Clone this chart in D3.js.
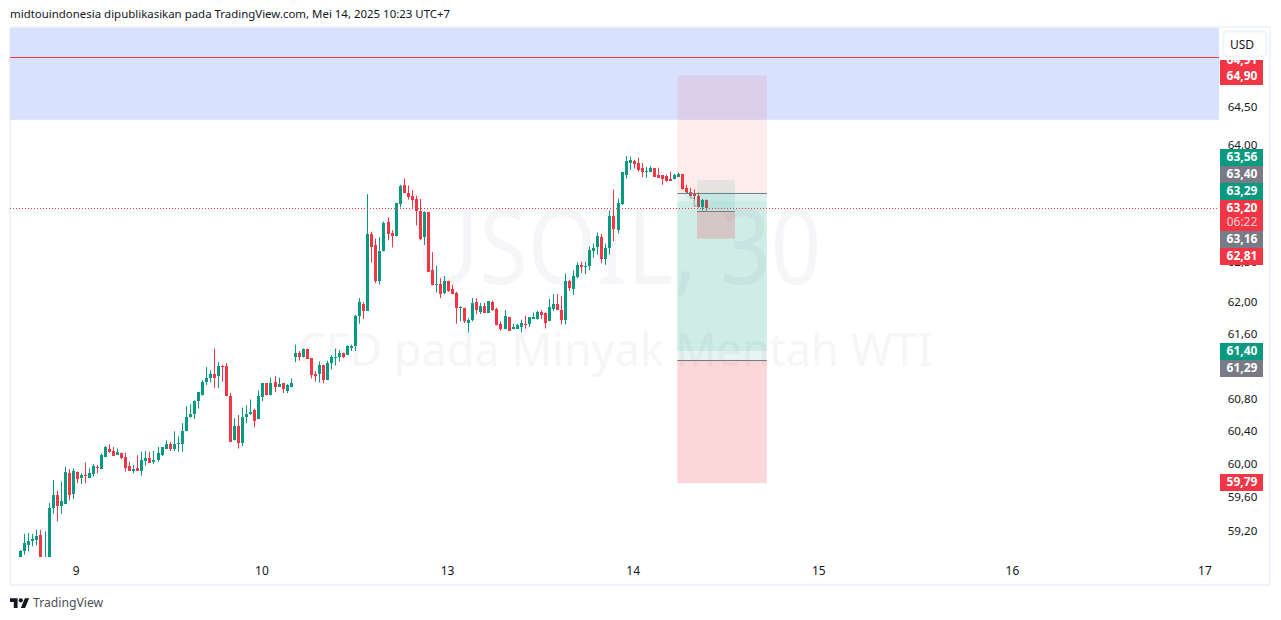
<!DOCTYPE html>
<html>
<head>
<meta charset="utf-8">
<style>
  html, body { margin: 0; padding: 0; background: #fff; }
  svg { display: block; }
  text { font-family: "Noto Sans", sans-serif; }
</style>
<script src="https://cdn.jsdelivr.net/npm/d3@7/dist/d3.min.js"></script>
</head>
<body>
<div id="svg-content"></div>
<script>
var opens = [
  58.85,58.96,59.04,59.08,59.10,59.16,58.82,58.85,59.48,59.64,
  59.51,59.53,59.90,59.65,59.92,59.84,59.88,59.84,59.89,59.98,
  59.95,60.10,60.19,60.17,60.12,60.15,60.10,59.99,59.93,59.96,
  59.93,60.05,60.09,60.04,60.06,60.12,60.20,60.25,60.19,60.26,
  60.25,60.41,60.58,60.62,60.78,60.86,61.01,61.06,61.11,61.09,
  61.22,61.21,60.84,60.30,60.48,60.27,60.58,60.62,60.67,60.56,
  60.83,61.00,60.85,61.01,60.96,61.00,60.91,60.95,61.32,61.38,
  61.32,61.43,61.31,61.12,61.11,61.23,61.04,61.25,61.32,61.32,
  61.37,61.35,61.44,61.46,61.83,61.99,61.90,62.87,62.73,62.28,
  62.65,63.02,62.88,62.85,63.25,63.50,63.40,63.35,63.32,63.16,
  62.83,63.15,62.42,62.23,62.24,62.13,62.28,62.18,62.13,61.94,
  61.94,61.75,61.78,62.01,61.89,61.96,61.88,62.01,61.93,61.73,
  61.68,61.82,61.67,61.68,61.70,61.74,61.73,61.80,61.80,61.89,
  61.87,61.77,61.93,61.99,61.91,61.78,62.28,62.18,62.33,62.48,
  62.45,62.46,62.66,62.70,62.83,62.55,62.69,63.10,62.92,63.25,
  63.63,63.78,63.81,63.78,63.71,63.67,63.66,63.71,63.62,63.62,
  63.61,63.57,63.57,63.60,63.64,63.46,63.41,63.39,63.36,63.21,63.30
];
var highs = [
  58.98,59.17,59.18,59.17,59.22,59.22,59.20,59.54,59.82,59.69,
  59.80,59.98,59.95,59.96,59.92,59.90,60.03,59.96,60.01,60.00,
  60.14,60.23,60.25,60.22,60.20,60.15,60.15,60.04,60.00,60.12,
  60.16,60.17,60.16,60.17,60.22,60.22,60.30,60.28,60.41,60.35,
  60.51,60.72,60.74,60.79,60.89,61.04,61.20,61.16,61.43,61.26,
  61.23,61.25,60.88,60.57,60.61,60.70,60.73,60.80,60.69,60.91,
  61.00,61.00,61.07,61.09,61.07,61.00,60.99,61.06,61.48,61.40,
  61.43,61.43,61.31,61.15,61.27,61.23,61.28,61.35,61.43,61.41,
  61.38,61.47,61.48,61.85,62.06,62.01,63.38,62.90,62.81,62.83,
  63.03,63.08,62.92,63.27,63.50,63.58,63.49,63.43,63.36,63.32,
  63.16,63.15,62.64,62.47,62.31,62.34,62.28,62.23,62.14,61.96,
  61.94,61.81,62.06,62.06,62.00,62.00,62.02,62.03,61.94,61.77,
  61.91,61.82,61.74,61.74,61.79,61.84,61.82,61.88,61.90,61.91,
  61.88,62.05,62.11,62.11,62.09,62.37,62.29,62.41,62.51,62.52,
  62.52,62.71,62.75,62.89,62.87,62.75,63.17,63.44,63.32,63.66,
  63.87,63.86,63.82,63.85,63.78,63.73,63.74,63.71,63.72,63.62,
  63.63,63.67,63.64,63.66,63.64,63.50,63.46,63.44,63.40,63.32,63.31
];
var lows = [
  58.82,58.92,58.96,59.02,59.03,58.85,58.80,58.82,59.41,59.32,
  59.41,59.53,59.57,59.59,59.78,59.77,59.78,59.84,59.86,59.90,
  59.95,60.10,60.15,60.11,60.12,60.07,59.92,59.93,59.90,59.93,
  59.87,59.99,60.03,60.01,60.04,60.11,60.20,60.17,60.17,60.16,
  60.16,60.41,60.58,60.56,60.69,60.85,60.98,61.01,60.94,60.94,
  61.02,60.84,60.28,60.30,60.20,60.23,60.51,60.61,60.46,60.56,
  60.78,60.85,60.85,60.89,60.96,60.88,60.88,60.95,61.26,61.28,
  61.32,61.30,61.06,61.02,61.01,61.00,61.04,61.17,61.22,61.27,
  61.31,61.35,61.40,61.40,61.74,61.80,61.90,62.51,62.25,62.23,
  62.65,62.79,62.70,62.84,63.21,63.39,63.31,63.21,62.98,62.79,
  62.73,62.39,62.22,62.13,62.06,62.11,62.14,62.11,61.74,61.77,
  61.75,61.63,61.77,61.86,61.86,61.88,61.88,61.90,61.72,61.65,
  61.67,61.65,61.67,61.68,61.63,61.68,61.70,61.80,61.79,61.80,
  61.68,61.77,61.90,61.91,61.73,61.73,62.15,62.10,62.31,62.38,
  62.36,62.41,62.57,62.61,62.50,62.48,62.61,62.78,62.88,63.24,
  63.58,63.69,63.71,63.67,63.60,63.59,63.66,63.60,63.59,63.50,
  63.54,63.55,63.57,63.60,63.44,63.38,63.35,63.31,63.21,63.17,63.17
];
var closes = [
  58.97,59.06,59.09,59.11,59.15,58.85,58.84,59.48,59.64,59.50,
  59.56,59.92,59.64,59.93,59.83,59.88,59.87,59.90,59.99,59.96,
  60.12,60.22,60.16,60.11,60.16,60.09,59.96,59.93,59.95,59.93,
  60.06,60.09,60.03,60.06,60.15,60.22,60.26,60.19,60.26,60.27,
  60.42,60.59,60.62,60.78,60.89,61.01,61.06,61.12,61.07,61.21,
  61.20,60.84,60.28,60.47,60.27,60.59,60.62,60.65,60.54,60.84,
  61.00,60.85,61.00,60.96,60.99,60.93,60.98,61.00,61.38,61.32,
  61.43,61.30,61.10,61.09,61.23,61.04,61.25,61.32,61.33,61.37,
  61.33,61.46,61.46,61.84,62.01,61.90,62.87,62.70,62.28,62.66,
  63.01,62.87,62.85,63.26,63.49,63.39,63.34,63.31,63.16,62.81,
  63.15,62.39,62.22,62.24,62.11,62.28,62.15,62.11,61.94,61.95,
  61.77,61.79,62.00,61.91,61.96,61.88,62.02,61.91,61.72,61.67,
  61.83,61.65,61.70,61.72,61.75,61.73,61.82,61.82,61.89,61.85,
  61.75,61.95,61.99,61.91,61.78,62.27,62.19,62.34,62.48,62.45,
  62.46,62.67,62.69,62.84,62.55,62.69,63.10,62.93,63.26,63.66,
  63.80,63.82,63.77,63.69,63.66,63.68,63.72,63.60,63.59,63.58,
  63.55,63.55,63.62,63.64,63.44,63.41,63.36,63.35,63.21,63.31,63.20
];

var priceTicks = [59.2, 59.6, 60, 60.4, 60.8, 61.6, 62, 62.5, 64, 64.5];
var dayBars = [14, 60, 106, 152, 198, 246, 293.7];
var dayLabels = ['9', '10', '13', '14', '15', '16', '17'];

var lastPrice = 63.20;
var zonePrices = [65.55, 64.34];
var zoneLinePrice = 65.165;
var pathBars = [165, 166, 166, 167, 167, 168];
var pathPrices = [63.40, 63.40, 63.33, 63.33, 63.23, 63.23];

var labelTexts = ['64,90', '63,56', '63,40', '63,29', '63,20', '63,16', '62,81', '61,40', '61,29', '59,79'];
var labelKinds = ['r', 'g', 'k', 'g', 'r', 'k', 'r', 'g', 'k', 'r'];
var labelTops = [68, 149, 166, 183, 200, 231, 248, 343, 360, 474];

var green = '#089981', red = '#f23645', grey = '#787b86', ink = '#131722';
var kindColor = { r: red, g: green, k: grey };

var plotLeft = 10, plotRight = 1219, plotTop = 28, plotBottom = 557;

var svg = d3.select('#svg-content').append('svg').attr('width', 1281).attr('height', 620);

var x = d3.scaleLinear().domain([0, 170]).range([20.3, 706.3]);
var y = d3.scaleLog().domain([60, 64]).range([465, 146]);

svg.append('text').attr('x', 10).attr('y', 18)
  .attr('font-size', 11.45).attr('fill', ink)
  .text('midtouindonesia dipublikasikan pada TradingView.com, Mei 14, 2025 10:23 UTC+7');

svg.append('rect').attr('x', 10).attr('y', 27).attr('width', 1260).attr('height', 558)
  .attr('fill', 'none').attr('stroke', '#f0f3fa').attr('stroke-width', 2).attr('rx', 2);

svg.append('defs').append('clipPath').attr('id', 'plot-clip').append('rect')
  .attr('x', plotLeft).attr('y', plotTop)
  .attr('width', plotRight - plotLeft).attr('height', plotBottom - plotTop);

var plot = svg.append('g').attr('clip-path', 'url(#plot-clip)');

// watermark sits under everything
plot.append('text').attr('x', 618).attr('y', 284).attr('text-anchor', 'middle')
  .attr('font-size', 104).attr('textLength', 407).attr('lengthAdjust', 'spacingAndGlyphs')
  .attr('fill', '#f6f6f8').text('USOIL, 30');
plot.append('text').attr('x', 615).attr('y', 366).attr('text-anchor', 'middle')
  .attr('font-size', 45).attr('fill', '#f6f6f8').text('CFD pada Minyak Mentah WTI');

plot.append('rect').attr('x', plotLeft).attr('width', plotRight - plotLeft)
  .attr('y', y(zonePrices[0])).attr('height', y(zonePrices[1]) - y(zonePrices[0]))
  .attr('fill', '#d8e1fd');
plot.append('line').attr('x1', plotLeft).attr('x2', plotRight)
  .attr('y1', Math.round(y(zoneLinePrice)) + 0.5).attr('y2', Math.round(y(zoneLinePrice)) + 0.5)
  .attr('stroke', red).attr('stroke-width', 1);

var bars = d3.range(opens.length);

plot.append('g').selectAll('rect').data(bars).enter().append('rect')
  .attr('x', function (d) { return Math.round(x(d)); })
  .attr('width', 1)
  .attr('y', function (d) { return y(highs[d]); })
  .attr('height', function (d) { return y(lows[d]) - y(highs[d]); })
  .attr('fill', function (d) { return closes[d] >= opens[d] ? green : red; });

plot.append('g').selectAll('rect').data(bars).enter().append('rect')
  .attr('x', function (d) { return Math.round(x(d)) - 1; })
  .attr('width', 3)
  .attr('y', function (d) { return Math.round(y(Math.max(opens[d], closes[d]))); })
  .attr('height', function (d) {
    return Math.max(1, Math.round(y(Math.min(opens[d], closes[d]))) - Math.round(y(Math.max(opens[d], closes[d]))));
  })
  .attr('fill', function (d) { return closes[d] >= opens[d] ? green : red; });

function box(b0, b1, p0, p1, fill, alpha) {
  plot.append('rect').attr('x', x(b0)).attr('width', x(b1) - x(b0))
    .attr('y', y(p0)).attr('height', y(p1) - y(p0))
    .attr('fill', fill).attr('fill-opacity', alpha);
}
function hline(b0, b1, p) {
  plot.append('line').attr('x1', x(b0)).attr('x2', x(b1))
    .attr('y1', Math.round(y(p)) + 0.5).attr('y2', Math.round(y(p)) + 0.5)
    .attr('stroke', grey).attr('stroke-width', 1);
}

// big position
box(162.8, 185, 64.92, 63.40, red, 0.1);
box(162.8, 185, 63.40, 61.29, green, 0.1);
box(162.8, 185, 63.29, 61.40, green, 0.1);
box(164.7, 185, 63.40, 63.29, green, 0.05);
box(162.8, 185, 61.29, 59.78, red, 0.2);
hline(162.8, 185, 63.40);
hline(162.8, 185, 61.29);

// small position
box(167.7, 177.1, 63.56, 63.16, green, 0.1);
box(167.7, 177.1, 63.16, 62.81, red, 0.2);
hline(167.7, 177.1, 63.16);

plot.append('path')
  .attr('d', d3.line()
    .x(function (d) { return x(pathBars[d]); })
    .y(function (d) { return y(pathPrices[d]); })(d3.range(pathBars.length)))
  .attr('fill', 'none').attr('stroke', grey).attr('stroke-width', 1).attr('stroke-dasharray', '2 1');

plot.append('line').attr('x1', plotLeft).attr('x2', plotRight)
  .attr('y1', Math.round(y(lastPrice)) + 0.5).attr('y2', Math.round(y(lastPrice)) + 0.5)
  .attr('stroke', red).attr('stroke-width', 1).attr('stroke-dasharray', '1 2');

// axes
var yAxis = d3.axisRight(y).tickValues(priceTicks).tickSize(0)
  .tickFormat(function (d) { return d3.format('.2f')(d).replace('.', ','); });
var yg = svg.append('g').attr('transform', 'translate(1242.5,0)').call(yAxis);
yg.select('.domain').remove();
yg.selectAll('text').attr('x', 0).attr('y', -1).attr('text-anchor', 'middle')
  .attr('font-size', 11.6).attr('fill', ink).style('font-family', '"Noto Sans", sans-serif');

var xAxis = d3.axisBottom(x).tickValues(dayBars).tickSize(0)
  .tickFormat(function (d) { return dayLabels[dayBars.indexOf(d)]; });
var xg = svg.append('g').attr('transform', 'translate(-1,' + plotBottom + ')').call(xAxis);
xg.select('.domain').remove();
xg.selectAll('text').attr('y', 14).attr('dy', '0.32em')
  .attr('font-size', 12).attr('fill', ink).style('font-family', '"Noto Sans", sans-serif');

// price labels, stacked the way the platform pushes them apart
var hiddenTop = svg.append('g');
hiddenTop.append('rect').attr('x', 1220).attr('y', 51).attr('width', 43).attr('height', 17).attr('fill', red);
hiddenTop.append('text').attr('x', 1242).attr('y', 64).attr('text-anchor', 'middle')
  .attr('font-size', 12).attr('font-weight', 700).attr('fill', '#fff').text('64,91');
svg.append('rect').attr('x', 1220).attr('y', 28).attr('width', 48).attr('height', 32).attr('fill', '#fff');

labelTexts.forEach(function (t, i) {
  var tall = t === '63,20';
  svg.append('rect').attr('x', 1220).attr('y', labelTops[i]).attr('width', 43)
    .attr('height', tall ? 31 : 17).attr('fill', kindColor[labelKinds[i]]);
  svg.append('text').attr('x', 1242).attr('y', labelTops[i] + 12).attr('text-anchor', 'middle')
    .attr('font-size', 12).attr('font-weight', 700).attr('fill', '#fff').text(t);
  if (tall) {
    svg.append('text').attr('x', 1242).attr('y', labelTops[i] + 26).attr('text-anchor', 'middle')
      .attr('font-size', 12).attr('fill', '#fff').attr('fill-opacity', 0.75).text('06:22');
  }
});

svg.append('rect').attr('x', 1223.5).attr('y', 31.5).attr('width', 43).attr('height', 25).attr('rx', 4)
  .attr('fill', '#fff').attr('stroke', '#f0f3fa').attr('stroke-width', 2);
svg.append('text').attr('x', 1242).attr('y', 48.5).attr('text-anchor', 'middle')
  .attr('font-size', 12).attr('fill', ink).text('USD');

// footer logo
var logo = svg.append('g').attr('transform', 'translate(10,596) scale(0.54)').attr('fill', ink);
logo.append('path').attr('d', 'M14 22H7V11H0V4h14v18zM28 22h-8l7.5-18h8L28 22z');
logo.append('circle').attr('cx', 20).attr('cy', 8).attr('r', 4);
svg.append('text').attr('x', 33).attr('y', 607).attr('font-size', 12.2).attr('fill', '#4a4e59').text('TradingView');
</script>
</body>
</html>
